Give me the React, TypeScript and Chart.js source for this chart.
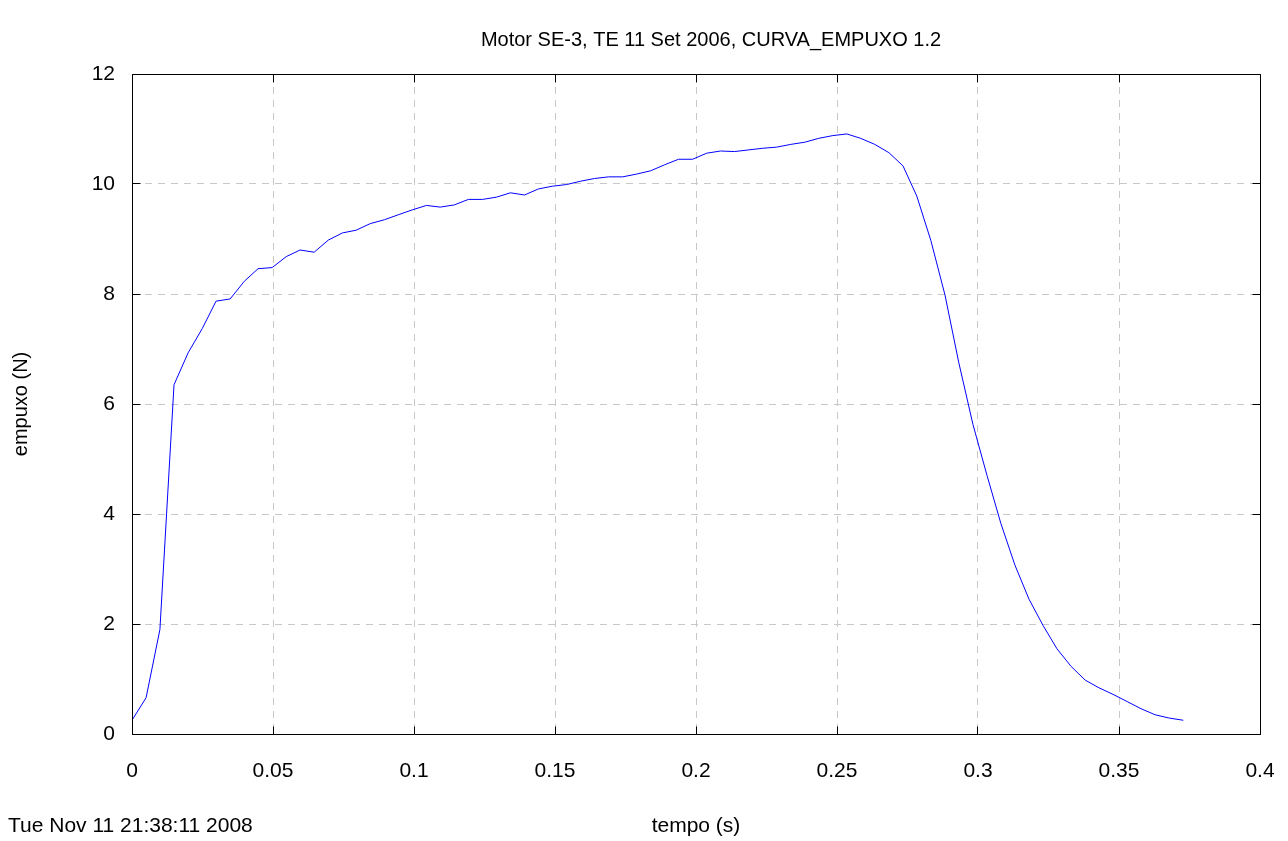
import React, { useEffect, useRef } from "react";
import { Chart, registerables } from "chart.js";

Chart.register(...registerables);

const TITLE = "Motor SE-3, TE 11 Set 2006, CURVA_EMPUXO 1.2";
const X_LABEL = "tempo (s)";
const Y_LABEL = "empuxo (N)";
const DATE_TEXT = "Tue Nov 11 21:38:11 2008";

const X_TICKS = [0, 0.05, 0.1, 0.15, 0.2, 0.25, 0.3, 0.35, 0.4];
const Y_TICKS = [0, 2, 4, 6, 8, 10, 12];

const TEMPO = [
  0, 0.005, 0.0099, 0.0149, 0.0199, 0.0249, 0.0298, 0.0348, 0.0398, 0.0447,
  0.0497, 0.0547, 0.0596, 0.0646, 0.0696, 0.0746, 0.0795, 0.0845, 0.0895, 0.0944,
  0.0994, 0.1044, 0.1093, 0.1143, 0.1193, 0.1243, 0.1292, 0.1342, 0.1392, 0.1441,
  0.1491, 0.1541, 0.159, 0.164, 0.169, 0.174, 0.1789, 0.1839, 0.1889, 0.1938,
  0.1988, 0.2038, 0.2087, 0.2137, 0.2187, 0.2237, 0.2286, 0.2336, 0.2386, 0.2435,
  0.2485, 0.2535, 0.2584, 0.2634, 0.2684, 0.2734, 0.2783, 0.2833, 0.2883, 0.2932,
  0.2982, 0.3032, 0.3081, 0.3131, 0.3181, 0.3231, 0.328, 0.333, 0.338, 0.3429,
  0.3479, 0.3529, 0.3578, 0.3628, 0.3678, 0.3728,
];

const EMPUXO = [
  0.25, 0.66, 1.9, 6.35, 6.93, 7.37, 7.87, 7.91, 8.23, 8.46,
  8.48, 8.68, 8.8, 8.76, 8.98, 9.11, 9.16, 9.28, 9.35, 9.44,
  9.53, 9.61, 9.58, 9.62, 9.72, 9.72, 9.76, 9.84, 9.8, 9.91,
  9.96, 9.99, 10.05, 10.1, 10.13, 10.13, 10.18, 10.24, 10.35, 10.45,
  10.45, 10.56, 10.6, 10.59, 10.62, 10.65, 10.67, 10.72, 10.76, 10.83,
  10.88, 10.91, 10.83, 10.72, 10.57, 10.33, 9.78, 8.97, 7.98, 6.75,
  5.63, 4.7, 3.83, 3.07, 2.45, 1.97, 1.55, 1.23, 0.98, 0.84,
  0.72, 0.59, 0.46, 0.35, 0.29, 0.25,
];

const FONT = '"Liberation Sans", Arial, sans-serif';
const TITLE_SIZE = 20;
const TEXT_SIZE = 21;

const align = (p: number) => Math.round(p - 0.5) + 0.5;

const framePlugin = {
  id: "frameAndTexts",
  afterDraw(chart: any) {
    const { ctx, chartArea: a, scales } = chart;
    const xs = scales.x;
    const ys = scales.y;
    const L = align(a.left);
    const R = align(a.right);
    const T = align(a.top);
    const B = align(a.bottom);
    const TL = 8;
    ctx.save();
    ctx.strokeStyle = "#000";
    ctx.lineWidth = 1;
    ctx.setLineDash([]);
    ctx.beginPath();
    ctx.rect(L, T, R - L, B - T);
    for (const v of X_TICKS) {
      const px = align(xs.getPixelForValue(v));
      ctx.moveTo(px, B);
      ctx.lineTo(px, B - TL);
      ctx.moveTo(px, T);
      ctx.lineTo(px, T + TL);
    }
    for (const v of Y_TICKS) {
      const py = align(ys.getPixelForValue(v));
      ctx.moveTo(L, py);
      ctx.lineTo(L + TL, py);
      ctx.moveTo(R, py);
      ctx.lineTo(R - TL, py);
    }
    ctx.stroke();

    ctx.fillStyle = "#000";
    ctx.textBaseline = "middle";
    ctx.textAlign = "center";
    ctx.font = `${TITLE_SIZE}px ${FONT}`;
    ctx.fillText(TITLE, 711, 40);
    ctx.font = `${TEXT_SIZE}px ${FONT}`;
    ctx.fillText(X_LABEL, (a.left + a.right) / 2, 826);
    ctx.textAlign = "left";
    ctx.fillText(DATE_TEXT, 8, 826);
    ctx.font = `${TITLE_SIZE}px ${FONT}`;
    ctx.translate(21, (a.top + a.bottom) / 2);
    ctx.rotate(-Math.PI / 2);
    ctx.textAlign = "center";
    ctx.fillText(Y_LABEL, 0, 0);
    ctx.restore();
  },
};

export default function App() {
  const ref = useRef<HTMLCanvasElement | null>(null);

  useEffect(() => {
    if (!ref.current) return;
    const points = TEMPO.map((t, i) => ({ x: t, y: EMPUXO[i] }));
    const tickFont = { family: FONT, size: TEXT_SIZE };
    const chart = new Chart(ref.current, {
      type: "line",
      data: {
        datasets: [
          {
            data: points,
            borderColor: "#0000ff",
            borderWidth: 1,
            pointRadius: 0,
            tension: 0,
            fill: false,
          },
        ],
      },
      options: {
        animation: false,
        responsive: false,
        events: [],
        layout: { padding: { left: 0, top: 74, right: 28, bottom: 0 } },
        plugins: {
          legend: { display: false },
          title: { display: false },
          tooltip: { enabled: false },
        },
        scales: {
          x: {
            type: "linear",
            min: 0,
            max: 0.4,
            afterFit: (s: any) => {
              s.height = 107;
              s.paddingLeft = 0;
              s.paddingRight = 0;
            },
            afterBuildTicks: (s: any) => {
              s.ticks = X_TICKS.map((v) => ({ value: v }));
            },
            ticks: {
              color: "#000",
              font: tickFont,
              padding: 25,
              maxRotation: 0,
              autoSkip: false,
              callback: (v: any) => String(Number(Number(v).toFixed(3))),
            },
            grid: {
              color: "#c8c8c8",
              lineWidth: 1,
              drawTicks: false,
            },
            border: { display: false, dash: [7, 6] },
          },
          y: {
            type: "linear",
            min: 0,
            max: 12,
            afterFit: (s: any) => {
              s.width = 132;
              s.paddingTop = 0;
              s.paddingBottom = 0;
            },
            afterBuildTicks: (s: any) => {
              s.ticks = Y_TICKS.map((v) => ({ value: v }));
            },
            ticks: {
              color: "#000",
              font: tickFont,
              padding: 17,
              autoSkip: false,
              callback: (v: any) => String(v),
            },
            grid: {
              color: "#c8c8c8",
              lineWidth: 1,
              drawTicks: false,
            },
            border: { display: false, dash: [7, 6] },
          },
        },
      },
      plugins: [framePlugin],
    });
    return () => chart.destroy();
  }, []);

  return (
    <div style={{ position: "fixed", left: 0, top: 0, width: 1288, height: 841, background: "#fff" }}>
      <canvas ref={ref} width={1288} height={841} style={{ display: "block" }} />
    </div>
  );
}
